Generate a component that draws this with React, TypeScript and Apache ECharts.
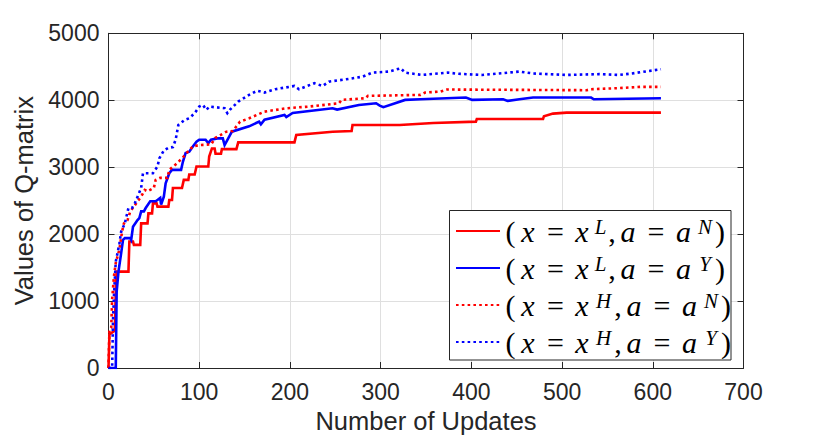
import React, { useEffect, useRef } from 'react';
import * as echarts from 'echarts';

// ---- data ----
const xTickValues = [0, 100, 200, 300, 400, 500, 600, 700];
const yTickValues = [0, 1000, 2000, 3000, 4000, 5000];

const supX = ['L', 'L', 'H', 'H'];
const supA = ['N', 'Y', 'N', 'Y'];
const seriesNames = supX.map((sx, i) => `(x = x^${sx}, a = a^${supA[i]})`);
const seriesColors = ['#ff0000', '#0000ff', '#ff0000', '#0000ff'];
const seriesDotted = [false, false, true, true];

// (x = x^L, a = a^N)
const dataLN: number[][] = [
  [0, 0], [1, 500], [7, 560], [8, 1150], [9, 1440], [22, 1440], [23, 1890], [27, 1890], [28, 1840],
  [35, 1840], [36, 2160], [43, 2160], [44, 2310], [48, 2310], [49, 2460], [53, 2460], [54, 2410],
  [66, 2410], [67, 2510], [70, 2510], [71, 2690], [81, 2690], [83, 2810], [88, 2810], [89, 2890],
  [95, 2890], [97, 3010], [110, 3010], [111, 3160], [114, 3280], [117, 3280], [118, 3200], [124, 3200],
  [125, 3270], [141, 3270], [143, 3370], [205, 3370], [207, 3480], [247, 3530], [268, 3540],
  [269, 3630], [321, 3630], [358, 3660], [405, 3680], [406, 3720], [479, 3720], [480, 3760],
  [490, 3800], [505, 3815], [609, 3815],
];

// (x = x^L, a = a^Y)
const dataLY: number[][] = [
  [0, 0], [8, 0], [9, 1140], [11, 1440], [14, 1720], [16, 1915], [18, 1940], [24, 1940], [25, 1915],
  [27, 2110], [32, 2210], [34, 2240], [36, 2340], [39, 2340], [41, 2390], [46, 2490], [52, 2490],
  [54, 2510], [57, 2540], [58, 2440], [61, 2560], [63, 2760], [67, 2910], [70, 2960], [80, 2960],
  [82, 3080], [85, 3210], [89, 3230], [93, 3310], [97, 3380], [100, 3410], [107, 3410], [110, 3360],
  [113, 3410], [120, 3430], [126, 3430], [128, 3330], [132, 3430], [136, 3530], [155, 3610],
  [166, 3680], [168, 3640], [172, 3710], [194, 3780], [196, 3750], [203, 3810], [247, 3880],
  [252, 3860], [276, 3930], [295, 3955], [299, 3920], [303, 3896], [316, 3955], [327, 4005],
  [344, 4015], [394, 4040], [401, 4005], [435, 4015], [440, 3990], [453, 4015], [468, 4040],
  [532, 4040], [535, 4015], [609, 4030],
];

// (x = x^H, a = a^N)
const dataHN: number[][] = [
  [0, 0], [1, 570], [3, 600], [4, 1020], [6, 1370], [8, 1570], [12, 1770], [13, 1860], [15, 2040],
  [17, 2160], [21, 2210], [24, 2340], [28, 2410], [32, 2490], [36, 2560], [40, 2660], [43, 2640],
  [50, 2690], [52, 2810], [57, 2840], [65, 2840], [67, 2960], [74, 3040], [81, 3130], [86, 3210],
  [93, 3310], [100, 3330], [113, 3340], [118, 3440], [130, 3530], [137, 3540], [145, 3680],
  [155, 3730], [172, 3830], [196, 3880], [221, 3905], [254, 3955], [257, 4005], [283, 4030],
  [286, 4065], [344, 4080], [349, 4115], [366, 4130], [373, 4160], [527, 4150], [532, 4165],
  [561, 4180], [586, 4200], [609, 4200],
];

// (x = x^H, a = a^Y)
const dataHY: number[][] = [
  [0, 0], [4, 0], [5, 720], [6, 1070], [8, 1590], [10, 1720], [12, 1860], [14, 2040], [18, 2160],
  [22, 2390], [26, 2390], [29, 2460], [33, 2590], [36, 2690], [38, 2910], [49, 2910], [54, 3010],
  [56, 3130], [61, 3250], [66, 3290], [71, 3300], [74, 3410], [77, 3630], [84, 3706], [89, 3731],
  [95, 3806], [100, 3905], [104, 3930], [108, 3856], [111, 3905], [128, 3881], [131, 3806],
  [134, 3860], [143, 3980], [155, 4080], [164, 4143], [172, 4115], [184, 4165], [205, 4213],
  [210, 4165], [227, 4254], [236, 4213], [243, 4278], [262, 4313], [280, 4352], [291, 4412],
  [309, 4428], [322, 4478], [327, 4412], [346, 4378], [374, 4412], [386, 4395], [412, 4378],
  [430, 4400], [453, 4428], [468, 4400], [505, 4378], [541, 4390], [563, 4378], [577, 4400],
  [609, 4463],
];

const seriesData = [dataLN, dataLY, dataHN, dataHY];

const AXIS_COLOR = '#262626';
const GRID_COLOR = '#dfdfdf';
const SANS = 'Liberation Sans, Arial, Helvetica, sans-serif';
const SERIF = 'Liberation Serif, Times New Roman, serif';

const mainTok = (width: number, italic: boolean) => ({
  width,
  align: 'center',
  fontFamily: SERIF,
  fontSize: 30,
  fontStyle: italic ? 'italic' : 'normal',
  lineHeight: 30,
  color: '#000',
});
const supTok = (width: number) => ({
  width,
  align: 'center',
  fontFamily: SERIF,
  fontSize: 21,
  fontStyle: 'italic',
  lineHeight: 18,
  verticalAlign: 'top',
  color: '#000',
});

const rich: Record<string, any> = {
  lp: mainTok(11, false),
  xi: mainTok(24, true),
  eq: mainTok(31, false),
  xi2: mainTok(22, true),
  cm: mainTok(8, false),
  ai: mainTok(24, true),
  eq2: mainTok(32, false),
  ai2: mainTok(23, true),
  rp: mainTok(10, false),
  sL: supTok(15),
  sH: supTok(21),
  sN: supTok(20),
  sY: supTok(20),
};

const legendFormatter = (name: string) => {
  const i = seriesNames.indexOf(name);
  const sx = supX[i];
  const sa = supA[i];
  return `{lp|(}{xi|x}{eq|=}{xi2|x}{s${sx}|${sx}}{cm|,}{ai|a}{eq2|=}{ai2|a}{s${sa}|${sa}}{rp|)}`;
};

export default function App() {
  const ref = useRef<HTMLDivElement>(null);

  useEffect(() => {
    document.body.style.margin = '0';
    if (!ref.current) return;
    const chart = echarts.init(ref.current, undefined, { renderer: 'svg' });

    const tickLabel = {
      color: AXIS_COLOR,
      fontFamily: SANS,
      fontSize: 23,
      formatter: (v: number) => String(v),
    };

    chart.setOption({
      animation: false,
      backgroundColor: '#ffffff',
      textStyle: { fontFamily: SANS },
      grid: { left: 108.5, right: 86.5, top: 33.3, bottom: 70.7, containLabel: false },
      xAxis: [
        {
          type: 'value',
          position: 'bottom',
          min: xTickValues[0],
          max: xTickValues[xTickValues.length - 1],
          interval: 100,
          name: 'Number of Updates',
          nameLocation: 'middle',
          nameGap: 40,
          nameTextStyle: { color: AXIS_COLOR, fontFamily: SANS, fontSize: 25.5 },
          axisLine: { show: true, onZero: false, lineStyle: { color: AXIS_COLOR, width: 1 } },
          axisTick: { show: true, inside: true, length: 6, lineStyle: { color: AXIS_COLOR } },
          axisLabel: { ...tickLabel, margin: 12 },
          splitLine: { show: true, lineStyle: { color: GRID_COLOR, width: 1 } },
        },
        {
          type: 'value',
          position: 'top',
          min: xTickValues[0],
          max: xTickValues[xTickValues.length - 1],
          interval: 100,
          axisLine: { show: true, onZero: false, lineStyle: { color: AXIS_COLOR, width: 1 } },
          axisTick: { show: true, inside: true, length: 6, lineStyle: { color: AXIS_COLOR } },
          axisLabel: { show: false },
          splitLine: { show: false },
        },
      ],
      yAxis: [
        {
          type: 'value',
          position: 'left',
          min: yTickValues[0],
          max: yTickValues[yTickValues.length - 1],
          interval: 1000,
          name: 'Values of Q-matrix',
          nameLocation: 'middle',
          nameGap: 66,
          nameTextStyle: { color: AXIS_COLOR, fontFamily: SANS, fontSize: 25.5 },
          axisLine: { show: true, onZero: false, lineStyle: { color: AXIS_COLOR, width: 1 } },
          axisTick: { show: true, inside: true, length: 6, lineStyle: { color: AXIS_COLOR } },
          axisLabel: { ...tickLabel, margin: 9 },
          splitLine: { show: true, lineStyle: { color: GRID_COLOR, width: 1 } },
        },
        {
          type: 'value',
          position: 'right',
          min: yTickValues[0],
          max: yTickValues[yTickValues.length - 1],
          interval: 1000,
          axisLine: { show: true, onZero: false, lineStyle: { color: AXIS_COLOR, width: 1 } },
          axisTick: { show: true, inside: true, length: 6, lineStyle: { color: AXIS_COLOR } },
          axisLabel: { show: false },
          splitLine: { show: false },
        },
      ],
      graphic: [
        {
          type: 'rect',
          z: 3,
          shape: { x: 449.5, y: 210.5, width: 281.5, height: 149.5 },
          style: { fill: '#ffffff', stroke: AXIS_COLOR, lineWidth: 1 },
        },
      ],
      legend: {
        orient: 'vertical',
        left: 449,
        top: 209,
        padding: [7, 2, 6, 6],
        itemWidth: 44,
        itemHeight: 14,
        itemGap: 7,
        z: 4,
        selectedMode: false,
        itemStyle: { opacity: 0 },
        textStyle: { color: '#000', rich },
        formatter: legendFormatter,
        data: seriesNames,
      },
      series: seriesNames.map((name, i) => ({
        name,
        type: 'line',
        xAxisIndex: 0,
        yAxisIndex: 0,
        data: seriesData[i],
        symbol: 'none',
        showSymbol: false,
        clip: true,
        lineStyle: {
          color: seriesColors[i],
          width: 2.6,
          type: seriesDotted[i] ? [2.6, 3.2] : 'solid',
          cap: 'butt',
          join: 'miter',
        },
        itemStyle: { color: seriesColors[i] },
        z: 2,
      })),
    });

    return () => chart.dispose();
  }, []);

  return (
    <div
      ref={ref}
      style={{ position: 'fixed', left: 0, top: 0, width: 830, height: 439, background: '#fff' }}
    />
  );
}
